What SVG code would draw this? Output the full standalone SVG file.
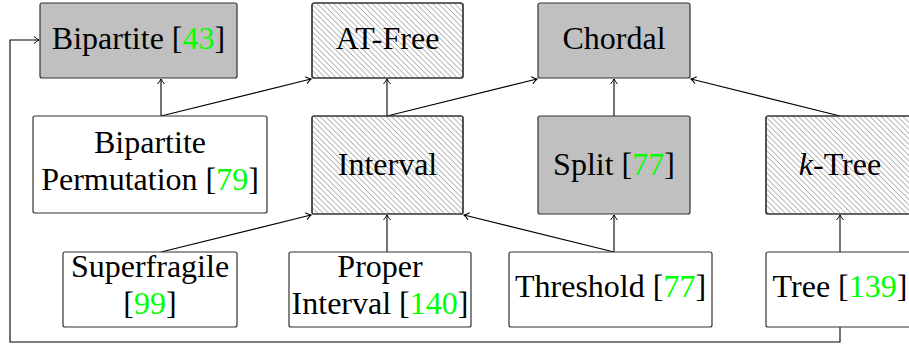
<svg xmlns="http://www.w3.org/2000/svg" width="909" height="345" viewBox="0 0 909 345">
<defs>
<pattern id="hatch" patternUnits="userSpaceOnUse" width="5.5" height="5.5">
<path d="M-1,-1 L6.5,6.5 M-1,4.5 L1,6.5 M4.5,-1 L6.5,1" stroke="#666" stroke-width="0.65" fill="none"/>
</pattern>
<marker id="arr" markerUnits="userSpaceOnUse" markerWidth="12" markerHeight="12" viewBox="-8 -6 10 12" refX="0" refY="0" orient="auto">
<path d="M-5,-3.5 Q-2,-1 0,0 Q-2,1 -5,3.5" fill="none" stroke="#000" stroke-width="1"/>
</marker>
<style>
.box{stroke:#333;stroke-width:1.2}
.gray{fill:#c0c0c0}
.white{fill:#fff}
.hat{fill:url(#hatch)}
text{font-family:"Liberation Serif","Times New Roman",serif;font-size:32px;fill:#000;text-anchor:middle}
.g{fill:#00ff00}
.c{stroke:#000;stroke-width:1.1;fill:none}
</style>
</defs>
<g id="connectors">
<path class="c" d="M161,116 L161,79" marker-end="url(#arr)"/>
<path class="c" d="M161,116 L311,79" marker-end="url(#arr)"/>
<path class="c" d="M387,116 L387,79" marker-end="url(#arr)"/>
<path class="c" d="M387,116 L537,79" marker-end="url(#arr)"/>
<path class="c" d="M614,116 L614,79" marker-end="url(#arr)"/>
<path class="c" d="M840,116 L691,79" marker-end="url(#arr)"/>
<path class="c" d="M161,252 L311,215" marker-end="url(#arr)"/>
<path class="c" d="M387,252 L387,215" marker-end="url(#arr)"/>
<path class="c" d="M614,252 L464,215" marker-end="url(#arr)"/>
<path class="c" d="M614,252 L614,215" marker-end="url(#arr)"/>
<path class="c" d="M840,252 L840,215" marker-end="url(#arr)"/>
<path class="c" d="M840,327 L840,342 L10,342 L10,40 L39,40" marker-end="url(#arr)"/>
</g>
<g id="bipartite">
<rect class="box gray" x="40" y="3" width="197" height="75" rx="2"/>
<text x="138.5" y="49">Bipartite [<tspan class="g">43</tspan>]</text>
</g>
<g id="atfree">
<rect class="box white" x="312" y="3" width="151" height="75" rx="2"/>
<rect class="box hat" x="312" y="3" width="151" height="75" rx="2"/>
<text x="387.5" y="49">AT-Free</text>
</g>
<g id="chordal">
<rect class="box gray" x="538" y="3" width="152" height="75" rx="2"/>
<text x="614" y="49">Chordal</text>
</g>
<g id="bippermutation">
<rect class="box white" x="33" y="116" width="234" height="97" rx="2"/>
<text x="150" y="153">Bipartite</text>
<text x="150" y="190">Permutation [<tspan class="g">79</tspan>]</text>
</g>
<g id="interval">
<rect class="box white" x="312" y="116" width="151" height="98" rx="2"/>
<rect class="box hat" x="312" y="116" width="151" height="98" rx="2"/>
<text x="387.5" y="175">Interval</text>
</g>
<g id="split">
<rect class="box gray" x="538" y="116" width="152" height="98" rx="2"/>
<text x="614" y="175">Split [<tspan class="g">77</tspan>]</text>
</g>
<g id="ktree">
<rect class="box white" x="766" y="116" width="148" height="98" rx="2"/>
<rect class="box hat" x="766" y="116" width="148" height="98" rx="2"/>
<text x="840" y="175"><tspan font-style="italic">k</tspan>-Tree</text>
</g>
<g id="superfragile">
<rect class="box white" x="63" y="252" width="174" height="75" rx="2"/>
<text x="150" y="277">Superfragile</text>
<text x="150" y="314">[<tspan class="g">99</tspan>]</text>
</g>
<g id="properinterval">
<rect class="box white" x="289" y="252" width="182" height="75" rx="2"/>
<text x="380" y="277">Proper</text>
<text x="380" y="314">Interval [<tspan class="g">140</tspan>]</text>
</g>
<g id="threshold">
<rect class="box white" x="509" y="252" width="203" height="75" rx="2"/>
<text x="610.5" y="297">Threshold [<tspan class="g">77</tspan>]</text>
</g>
<g id="tree">
<rect class="box white" x="766" y="252" width="148" height="75" rx="2"/>
<text x="840" y="297">Tree [<tspan class="g">139</tspan>]</text>
</g>
</svg>
